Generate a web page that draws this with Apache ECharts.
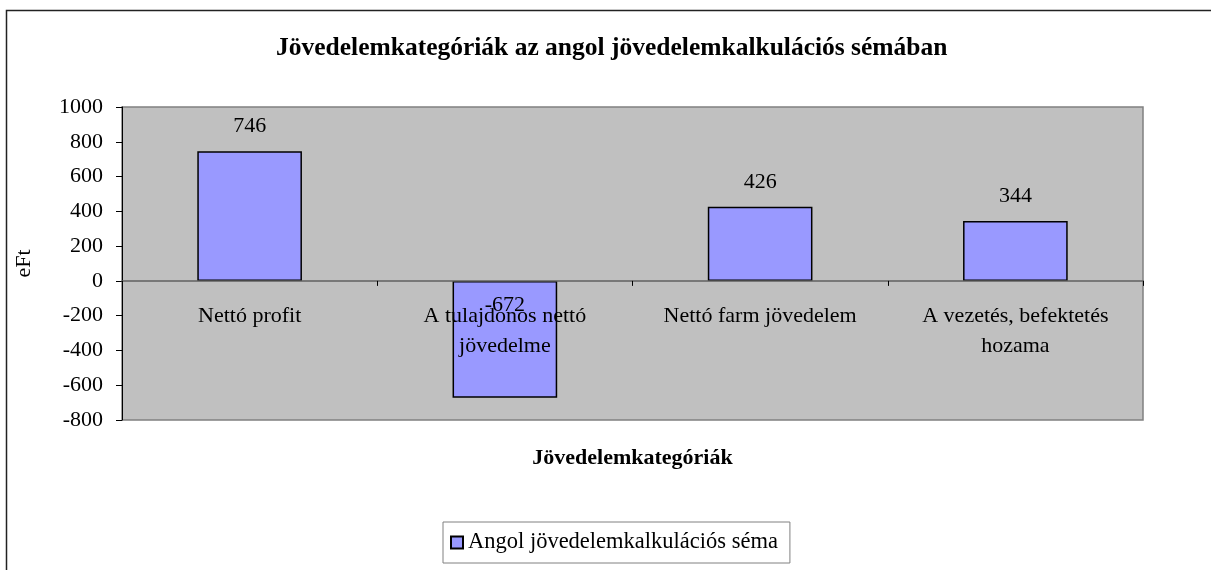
<!DOCTYPE html>
<html>
<head>
<meta charset="utf-8">
<script src="https://cdn.jsdelivr.net/npm/echarts@6/dist/echarts.min.js"></script>
<style>html,body{margin:0;padding:0;background:#fff}#c{width:1211px;height:570px}</style>
</head>
<body>
<div id="c"></div>
<script>
const categories = ['Nettó profit', 'A tulajdonos nettó\njövedelme', 'Nettó farm jövedelem', 'A vezetés, befektetés\nhozama'];
const values = [746, -672, 426, 344];
const seriesName = 'Angol jövedelemkalkulációs séma';
const titleText = 'Jövedelemkategóriák az angol jövedelemkalkulációs sémában';
const xName = 'Jövedelemkategóriák';
const yName = 'eFt';
const yMin = -800, yMax = 1000, yStep = 200;

const FONT = '"Liberation Serif", "Times New Roman", serif';
const GRID_TOP = 107, GRID_BOTTOM_PX = 420;
// place category axis at value 0 (v6 keeps labels at grid edge with onZero)
const zeroOffset = -(GRID_BOTTOM_PX - GRID_TOP) * (0 - yMin) / (yMax - yMin);

const chart = echarts.init(document.getElementById('c'), null, {renderer: 'canvas'});
chart.setOption({
  animation: false,
  backgroundColor: '#fff',
  textStyle: {fontFamily: FONT, color: '#000'},
  graphic: [{
    type: 'rect', silent: true,
    shape: {x: 6.5, y: 10.5, width: 1400, height: 800},
    style: {fill: 'none', stroke: '#222', lineWidth: 1.5}
  }],
  title: {
    text: titleText, left: 276, top: 35, padding: 0,
    textStyle: {fontFamily: FONT, fontSize: 25.5, fontWeight: 'bold', color: '#000'}
  },
  legend: {
    left: 443, top: 522, padding: [9, 12, 9, 7],
    borderColor: '#808080', borderWidth: 1, backgroundColor: '#fff',
    itemWidth: 12, itemHeight: 12, itemGap: 10,
    icon: 'rect',
    textStyle: {fontFamily: FONT, fontSize: 22.5, color: '#000'},
    data: [seriesName]
  },
  grid: {
    left: 122, right: 68, top: GRID_TOP, bottom: 570 - GRID_BOTTOM_PX,
    show: true, backgroundColor: '#C0C0C0', borderColor: '#808080', borderWidth: 1.5,
    containLabel: false, outerBoundsMode: 'none'
  },
  xAxis: {
    type: 'category', data: categories, z: 5,
    offset: zeroOffset,
    name: xName, nameLocation: 'middle', nameGap: 166,
    nameTextStyle: {fontFamily: FONT, fontSize: 22, fontWeight: 'bold', color: '#000'},
    axisLine: {show: true, onZero: false, lineStyle: {color: '#606060', width: 1.5}},
    axisTick: {show: true, length: 5, lineStyle: {color: '#000'}},
    axisLabel: {fontFamily: FONT, fontSize: 22, color: '#000', margin: 20, lineHeight: 30, interval: 0}
  },
  yAxis: {
    type: 'value', min: yMin, max: yMax, interval: yStep,
    name: yName, nameLocation: 'middle', nameGap: 87, nameRotate: 90,
    nameTextStyle: {fontFamily: FONT, fontSize: 22, color: '#000'},
    axisLine: {show: true, lineStyle: {color: '#000', width: 1}},
    axisTick: {show: true, length: 6, lineStyle: {color: '#000'}},
    splitLine: {show: false},
    axisLabel: {fontFamily: FONT, fontSize: 22, color: '#000', margin: 19, formatter: v => String(v)}
  },
  series: [{
    name: seriesName, type: 'bar', barWidth: '41%', z: 2,
    itemStyle: {color: '#9999FF', borderColor: '#000', borderWidth: 1.5},
    label: {show: true, position: 'top', distance: 14, fontFamily: FONT, fontSize: 22, color: '#000'},
    data: values.map(v => v < 0 ? {value: v, label: {position: 'insideTop', distance: 13}} : v)
  }]
});
</script>
</body>
</html>
